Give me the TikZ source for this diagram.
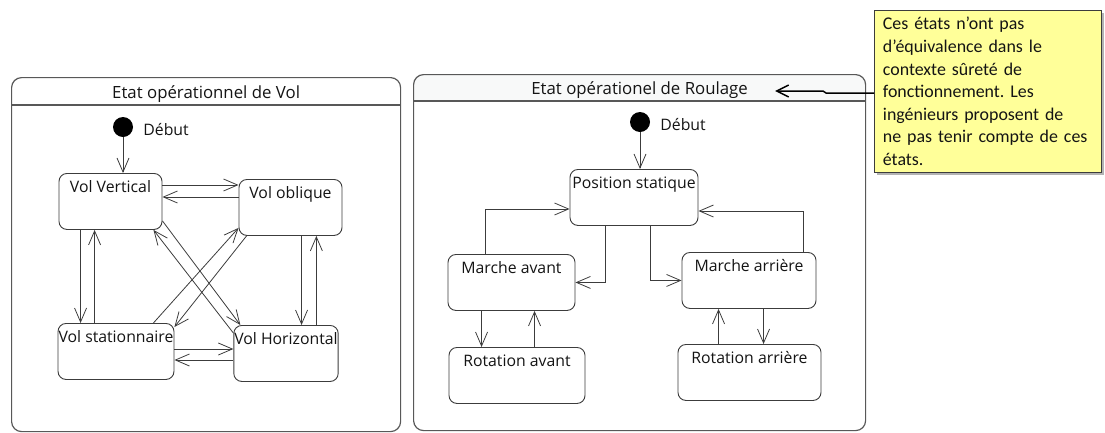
\documentclass[tikz,border=0pt]{standalone}
\usepackage{fontspec}
\setmainfont{Open Sans}
\newfontfamily\notefont{Carlito}
\usepackage{tikz}
\usetikzlibrary{arrows.meta,backgrounds,positioning,shadows}
\frenchspacing
\definecolor{ink}{HTML}{3C3C3C}
\definecolor{framegray}{HTML}{585858}
\definecolor{textdark}{HTML}{141414}
\definecolor{softgray}{HTML}{F8F9F9}
\definecolor{noteyellow}{HTML}{FFFF99}
\tikzset{
  statefont/.style={font=\fontsize{15.8}{17}\selectfont, text=textdark},
  statebox/.style={
    statefont, draw=ink, line width=0.9pt, rounded corners=8pt, fill=white,
    anchor=north, inner xsep=0.5pt, inner ysep=4pt, text height=15pt, text depth=33pt
  },
  frame/.style={draw=framegray, line width=1.2pt, rounded corners=10pt, anchor=north west, inner sep=0pt},
  frameline/.style={draw=framegray, line width=1.2pt},
  frametitle/.style={font=\fontsize{16.8}{18}\selectfont, text=textdark, inner sep=0pt, anchor=base},
  startdot/.style={circle, fill=black, minimum size=20pt, inner sep=0pt},
  startlabel/.style={statefont, inner sep=0pt},
  notebox/.style={
    draw=ink, fill=noteyellow, line width=0.8pt, anchor=north west,
    drop shadow={shadow xshift=2.5pt, shadow yshift=-2.5pt, fill=black!50, opacity=0.6},
    minimum height=162pt, text width=210pt, inner xsep=8.5pt,
    align=left, font=\notefont\fontsize{17.9}{22.6}\selectfont, text=textdark
  },
  flow/.style={-{Straight Barb[length=14pt,width=12pt]}, draw=ink, line width=0.8pt},
  noteflow/.style={-{Straight Barb[length=12pt,width=12pt]}, draw=black, line width=1.5pt}
}

\begin{document}
\begin{tikzpicture}[x=1pt, y=-1pt]
  \useasboundingbox (0,0) rectangle (1105,432);

  % ---- Vol ----
  \node[frame, minimum width=389pt, minimum height=354pt] (vol) at (11,77) {};
  \draw[frameline] ([yshift=-28pt]vol.north west) -- ([yshift=-28pt]vol.north east);
  \node[frametitle] (voltitle) at ([yshift=-21pt]vol.north) {Etat opérationnel de Vol};

  \node[startdot] (vdot) at (123,127) {};
  \node[startlabel, right=10pt of vdot, yshift=-3pt] (vdebut) {Début};

  \node[statebox, minimum width=103pt] (vv) at (110.5,173) {Vol Vertical};
  \node[statebox, minimum width=103pt] (vo) at (290.5,179) {Vol oblique};
  \node[statebox, minimum width=114pt] (vs) at (116,323) {Vol stationnaire};
  \node[statebox, minimum width=102pt] (vh) at (286,325) {Vol Horizontal};

  \draw[flow] (vdot) -- (vdot |- vv.north);
  \draw[flow] ([yshift=-12pt]vv.north east -| vv.east) -- ([yshift=-12pt]vv.north east -| vo.west);
  \draw[flow] ([yshift=-18pt]vo.north west) -- ([yshift=-18pt]vo.north west -| vv.east);
  \draw[flow] ([xshift=22pt]vv.south west) -- ([xshift=22pt]vv.south west |- vs.north);
  \draw[flow] ([xshift=37pt]vs.north west) -- ([xshift=37pt]vs.north west |- vv.south);
  \draw[flow] ([xshift=63pt]vo.south west) -- ([xshift=63pt]vo.south west |- vh.north);
  \draw[flow] ([xshift=83pt]vh.north west) -- ([xshift=83pt]vh.north west |- vo.south);
  \draw[flow] ([yshift=-26pt]vs.north east) -- ([yshift=-26pt]vs.north east -| vh.west);
  \draw[flow] ([yshift=-35pt]vh.north west) -- ([yshift=-35pt]vh.north west -| vs.east);
  % diagonals
  \draw[flow] ([yshift=9pt]vv.south east) -- ([xshift=7pt]vh.north west);
  \draw[flow] ([yshift=-8pt]vh.north west) -- ([xshift=-9pt]vv.south east);
  \draw[flow] ([xshift=-21pt]vs.north east) -- ([yshift=8pt]vo.south west);
  \draw[flow] ([xshift=8pt]vo.south west) -- ([yshift=-4pt]vs.north east);

  % ---- Roulage ----
  \node[frame, minimum width=452pt, minimum height=356pt] (roul) at (413,74) {};
  \begin{scope}[on background layer]
    \fill[softgray] ([yshift=-27pt]roul.north west) {[rounded corners=10pt] -- (roul.north west) -- (roul.north east)} -- ([yshift=-27pt]roul.north east) -- cycle;
  \end{scope}
  \draw[frameline] ([yshift=-27pt]roul.north west) -- ([yshift=-27pt]roul.north east);
  \node[frametitle] (roultitle) at ([yshift=-20pt]roul.north) {Etat opérationel de Roulage};

  \node[startdot] (rdot) at (640,122) {};
  \node[startlabel, right=10pt of rdot, yshift=-3pt] (rdebut) {Début};

  \node[statebox, minimum width=128pt] (ps) at (634,169) {Position statique};
  \node[statebox, minimum width=127pt] (ma) at (511.5,254) {Marche avant};
  \node[statebox, minimum width=134pt] (mar) at (749,252) {Marche arrière};
  \node[statebox, minimum width=136pt] (ra) at (517,347) {Rotation avant};
  \node[statebox, minimum width=143pt] (rar) at (749.5,344) {Rotation arrière};

  \draw[flow] (rdot) -- (rdot |- ps.north);
  \draw[flow] ([xshift=38pt]ma.north west) |- ([yshift=-40pt]ps.north west);
  \draw[flow] ([xshift=36pt]ps.south west) |- (ma.east);
  \draw[flow] ([xshift=81pt]ps.south west) |- (mar.west);
  \draw[flow] ([xshift=122pt]mar.north west) |- ([yshift=-42pt]ps.north east);
  \draw[flow] ([xshift=34pt]ma.south west) -- ([xshift=34pt]ma.south west |- ra.north);
  \draw[flow] ([xshift=86pt]ra.north west) -- ([xshift=86pt]ra.north west |- ma.south);
  \draw[flow] ([xshift=41pt]rar.north west) -- ([xshift=41pt]rar.north west |- mar.south);
  \draw[flow] ([xshift=82pt]mar.south west) -- ([xshift=82pt]mar.south west |- rar.north);

  % ---- note ----
  \node[notebox] (note) at (874,10) {Ces états n’ont pas\\d’équivalence dans le\\contexte sûreté de\\fonctionnement. Les\\ingénieurs proposent de\\ne pas tenir compte de ces\\états.};
  \coordinate (notetip) at (775,91);
  \draw[noteflow] ([yshift=-83pt]note.north west) -- ++(-48,0) -- ++(-3,-2) -- (notetip);
\end{tikzpicture}
\end{document}
